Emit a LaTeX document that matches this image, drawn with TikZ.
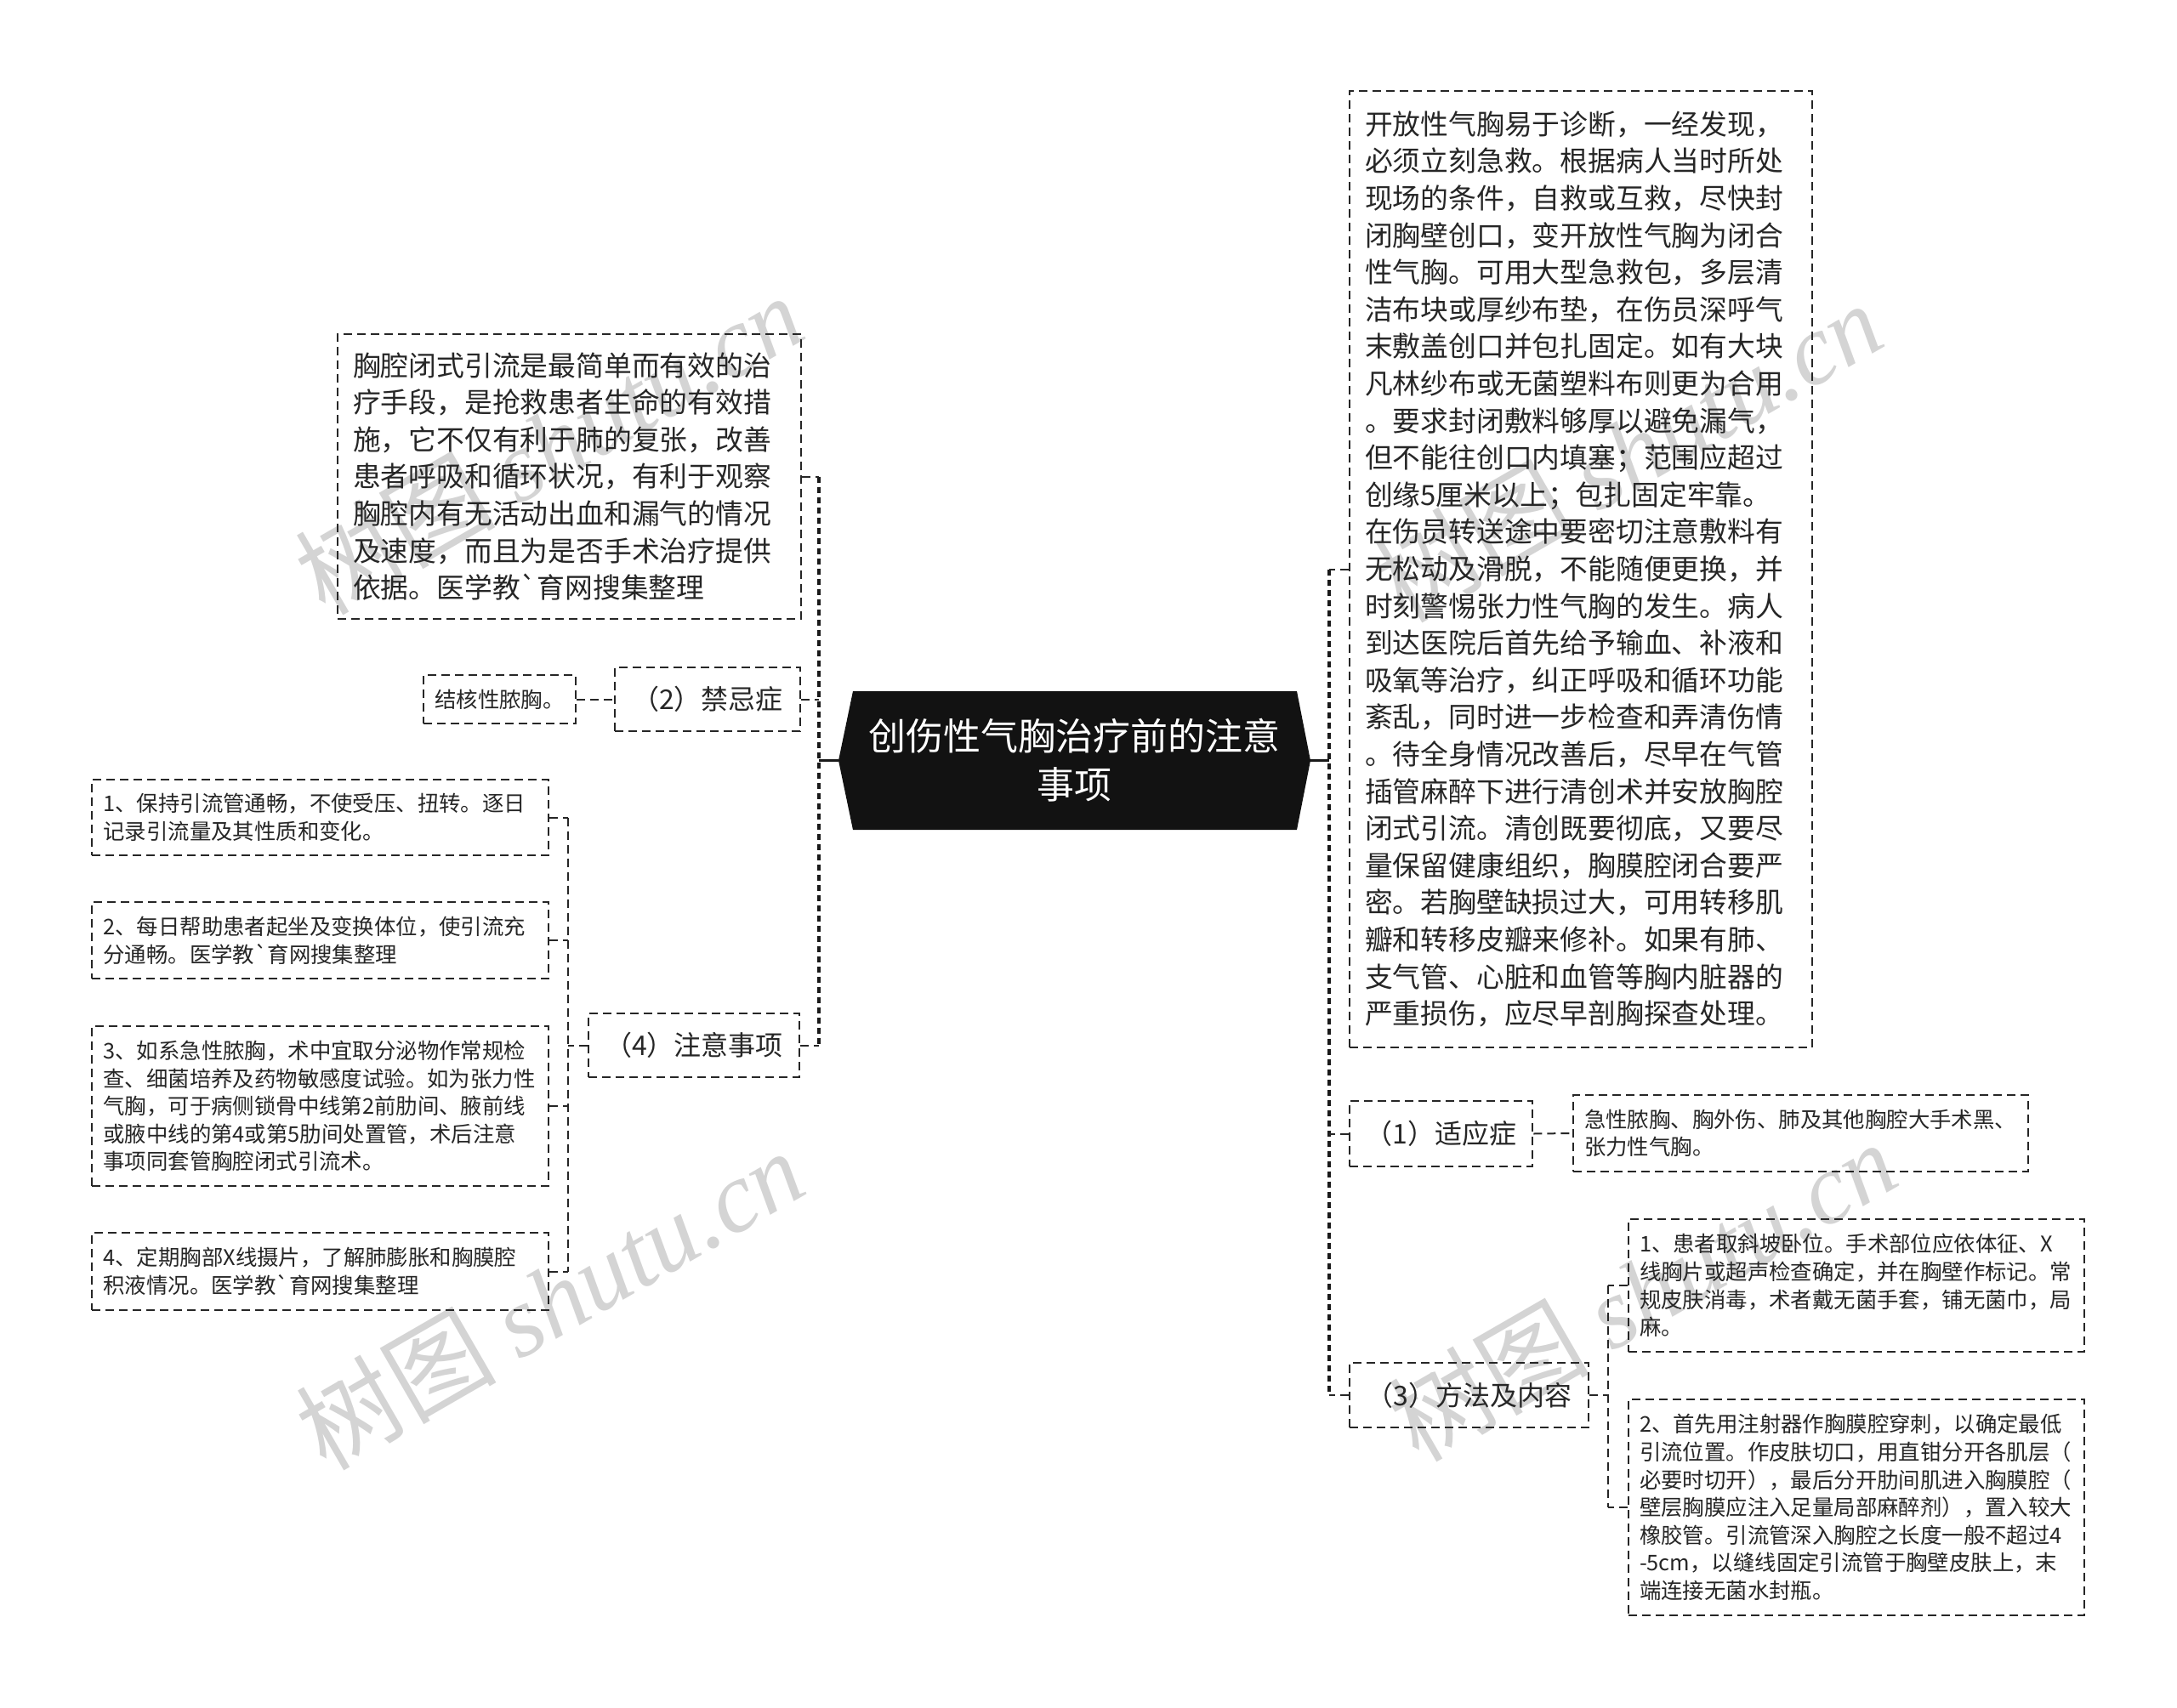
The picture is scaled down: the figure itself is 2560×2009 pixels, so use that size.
\documentclass[tikz,border=0pt]{standalone}
\usepackage{fontspec}
\setmainfont{Noto Sans CJK SC}
\newfontfamily\wmlatin{Liberation Serif}
\usetikzlibrary{calc}
\begin{document}
\begin{tikzpicture}[x=1pt,y=-1pt,
  box/.style={draw=black!85, line width=2.5pt, dash pattern=on 10pt off 6pt, inner ysep=0pt, text=black!85, align=left},
  bigtxt/.style={font=\fontsize{32.8pt}{43.6pt}\selectfont},
  smalltxt/.style={font=\fontsize{25.4pt}{32.6pt}\selectfont},
  lbl/.style={box, align=center, inner sep=0pt, font=\fontsize{32pt}{40pt}\selectfont},
  link/.style={draw=black!85, line width=2pt, dash pattern=on 10pt off 6pt},
  trunk/.style={draw=black!90, line width=4pt, dash pattern=on 7pt off 5pt},
  stub/.style={draw=black!90, line width=3.5pt},
  wm/.style={text=black!17, rotate=30, inner sep=0pt, font=\fontsize{118pt}{118pt}\selectfont}
]
\useasboundingbox (0,0) rectangle (2560,2009);
\fill[white] (0,0) rectangle (2560,2009);

% watermarks
\node[wm] (wm1) at (645,522) {树图 {\wmlatin\itshape shutu.cn}};
\node[wm] (wm2) at (1914,531) {树图 {\wmlatin\itshape shutu.cn}};
\node[wm] (wm3) at (646,1528) {树图 {\wmlatin\itshape shutu.cn}};
\node[wm] (wm4) at (1931,1518) {树图 {\wmlatin\itshape shutu.cn}};

% central node
\coordinate (cc) at (1263.5,894.5);
\fill[black!93] ($(cc)+(-277.5,0)$) -- ($(cc)+(-260.5,-81.5)$) -- ($(cc)+(261.5,-81.5)$)
  -- ($(cc)+(277.5,0)$) -- ($(cc)+(261.5,81.5)$) -- ($(cc)+(-260.5,81.5)$) -- cycle;
\node[text=white, font=\fontsize{44pt}{57pt}\selectfont, align=center, minimum width=555pt, minimum height=163pt, inner sep=0pt] (C) at (cc) {创伤性气胸治疗前的注意\\事项};

% left side
\node[box,bigtxt,text width=509pt,inner xsep=18pt,minimum height=335pt] (A) at (669.5,560.5) {胸腔闭式引流是最简单而有效的治\\疗手段，是抢救患者生命的有效措\\施，它不仅有利于肺的复张，改善\\患者呼吸和循环状况，有利于观察\\胸腔内有无活动出血和漏气的情况\\及速度，而且为是否手术治疗提供\\依据。医学教\textasciigrave 育网搜集整理};

\node[lbl, minimum width=218pt, minimum height=75pt] (jj) at (832,822.5) {（2）禁忌症};
\node[box, smalltxt, align=center, inner sep=0pt, minimum width=179pt, minimum height=57pt] (jh) at (587.5,822.5) {结核性脓胸。};
\node[lbl, minimum width=248pt, minimum height=75pt] (zy) at (816,1229.5) {（4）注意事项};

\node[box,smalltxt,text width=510pt,inner xsep=13.5pt,minimum height=89pt] (L1) at (376.5,961.5) {1、保持引流管通畅，不使受压、扭转。逐日\\记录引流量及其性质和变化。};
\node[box,smalltxt,text width=510pt,inner xsep=13.5pt,minimum height=90pt] (L2) at (376.5,1106) {2、每日帮助患者起坐及变换体位，使引流充\\分通畅。医学教\textasciigrave 育网搜集整理};
\node[box,smalltxt,text width=510pt,inner xsep=13.5pt,minimum height=188pt] (L3) at (376.5,1301) {3、如系急性脓胸，术中宜取分泌物作常规检\\查、细菌培养及药物敏感度试验。如为张力性\\气胸，可于病侧锁骨中线第2前肋间、腋前线\\或腋中线的第4或第5肋间处置管，术后注意\\事项同套管胸腔闭式引流术。};
\node[box,smalltxt,text width=510pt,inner xsep=13.5pt,minimum height=91pt] (L4) at (376.5,1495.5) {4、定期胸部X线摄片，了解肺膨胀和胸膜腔\\积液情况。医学教\textasciigrave 育网搜集整理};

% right side
\node[box,bigtxt,text width=508pt,inner xsep=18pt,minimum height=1125pt] (B) at (1859,669.5) {开放性气胸易于诊断，一经发现，\\必须立刻急救。根据病人当时所处\\现场的条件，自救或互救，尽快封\\闭胸壁创口，变开放性气胸为闭合\\性气胸。可用大型急救包，多层清\\洁布块或厚纱布垫，在伤员深呼气\\末敷盖创口并包扎固定。如有大块\\凡林纱布或无菌塑料布则更为合用\\。要求封闭敷料够厚以避免漏气，\\但不能往创口内填塞；范围应超过\\创缘5厘米以上；包扎固定牢靠。\\在伤员转送途中要密切注意敷料有\\无松动及滑脱，不能随便更换，并\\时刻警惕张力性气胸的发生。病人\\到达医院后首先给予输血、补液和\\吸氧等治疗，纠正呼吸和循环功能\\紊乱，同时进一步检查和弄清伤情\\。待全身情况改善后，尽早在气管\\插管麻醉下进行清创术并安放胸腔\\闭式引流。清创既要彻底，又要尽\\量保留健康组织，胸膜腔闭合要严\\密。若胸壁缺损过大，可用转移肌\\瓣和转移皮瓣来修补。如果有肺、\\支气管、心脏和血管等胸内脏器的\\严重损伤，应尽早剖胸探查处理。};

\node[lbl, minimum width=215pt, minimum height=77pt] (sy) at (1694.5,1333.5) {（1）适应症};
\node[box,smalltxt,text width=509pt,inner xsep=13pt,minimum height=90pt] (sy1) at (2117.5,1333) {急性脓胸、胸外伤、肺及其他胸腔大手术黑、\\张力性气胸。};
\node[lbl, minimum width=281pt, minimum height=76pt] (ff) at (1727.5,1641) {（3）方法及内容};

\node[box,smalltxt,text width=510pt,inner xsep=13pt,minimum height=156pt] (R1) at (2183,1512) {1、患者取斜坡卧位。手术部位应依体征、X\\线胸片或超声检查确定，并在胸壁作标记。常\\规皮肤消毒，术者戴无菌手套，铺无菌巾，局\\麻。};
\node[box,smalltxt,text width=510pt,inner xsep=13pt,minimum height=254pt] (R2) at (2183,1773) {2、首先用注射器作胸膜腔穿刺，以确定最低\\引流位置。作皮肤切口，用直钳分开各肌层（\\必要时切开），最后分开肋间肌进入胸膜腔（\\壁层胸膜应注入足量局部麻醉剂），置入较大\\橡胶管。引流管深入胸腔之长度一般不超过4\\-5cm，以缝线固定引流管于胸壁皮肤上，末\\端连接无菌水封瓶。};

% trunk x positions
\coordinate (ltx) at (963,0);
\coordinate (rtx) at (1563,0);
\coordinate (lix) at (668,0);
\coordinate (fix) at (1891,0);

% left connectors
\draw[stub] (C.west) -- (C.west -| ltx);
\draw[trunk] (A.east -| ltx) -- (zy.east -| ltx);
\draw[link] (A.east) -- (A.east -| ltx);
\draw[link] (jj.east) -- (jj.east -| ltx);
\draw[link] (zy.east) -- (zy.east -| ltx);
\draw[link] (jh.east) -- (jj.west);
\draw[link] (L1.east -| lix) -- (L4.east -| lix);
\draw[link] (zy.west) -- (zy.west -| lix);
\draw[link] (L1.east) -- (L1.east -| lix);
\draw[link] (L2.east) -- (L2.east -| lix);
\draw[link] (L3.east) -- (L3.east -| lix);
\draw[link] (L4.east) -- (L4.east -| lix);

% right connectors
\draw[stub] (C.east) -- (C.east -| rtx);
\draw[trunk] (B.west -| rtx) -- (ff.west -| rtx);
\draw[link] (B.west) -- (B.west -| rtx);
\draw[link] (sy.west) -- (sy.west -| rtx);
\draw[link] (ff.west) -- (ff.west -| rtx);
\draw[link] (sy.east) -- (sy1.west);
\draw[link] (R1.west -| fix) -- (R2.west -| fix);
\draw[link] (ff.east) -- (ff.east -| fix);
\draw[link] (R1.west) -- (R1.west -| fix);
\draw[link] (R2.west) -- (R2.west -| fix);
\end{tikzpicture}
\end{document}
